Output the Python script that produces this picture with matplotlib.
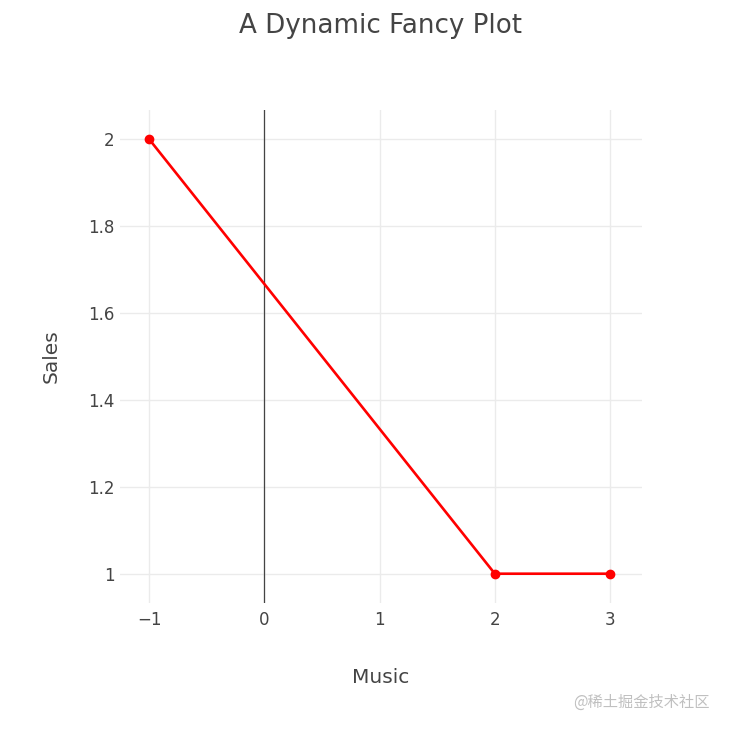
import matplotlib
matplotlib.use("Agg")
import matplotlib.pyplot as plt

# data
music = [-1, 2, 3]
sales = [2, 1, 1]
x_ticks = [-1, 0, 1, 2, 3]
x_labels = ["\u22121", "0", "1", "2", "3"]
y_ticks = [1, 1.2, 1.4, 1.6, 1.8, 2]
y_labels = ["1", "1.2", "1.4", "1.6", "1.8", "2"]

plt.rcParams['font.family'] = ['DejaVu Sans']
txt = "#444444"

fig = plt.figure(figsize=(7.3, 7.32), dpi=100)
ax = fig.add_axes([0.1644, 0.1762, 0.7151, 0.6735])

ax.plot(music, sales, color="red", lw=1.9, marker="o", ms=6, zorder=3)
ax.axvline(0, color="#444444", lw=0.9, zorder=2)

ax.set_xlim(-1.254, 3.278)
ax.set_ylim(0.9325, 2.0675)
ax.set_xticks(x_ticks, x_labels)
ax.set_yticks(y_ticks, y_labels)
ax.grid(True, color="#ebebeb", lw=1)
ax.set_axisbelow(True)
for s in ax.spines.values():
    s.set_visible(False)
ax.tick_params(length=0, labelsize=12, labelcolor=txt)
ax.tick_params(axis="x", pad=6)
ax.tick_params(axis="y", pad=4)

ax.set_xlabel("Music", fontsize=14.5, color=txt, labelpad=28)
ax.set_ylabel("Sales", fontsize=14.5, color=txt, labelpad=20)
fig.text(0.521, 0.965, "A Dynamic Fancy Plot", ha="center", va="center",
         fontsize=18.8, color=txt)

fig.text(0.972, 0.04, "@稀土掘金技术社区", ha="right", va="center", fontsize=11,
         color="#c0c0c0", family=['Noto Sans CJK SC', 'DejaVu Sans'])

fig.savefig("out.png", dpi=100)
